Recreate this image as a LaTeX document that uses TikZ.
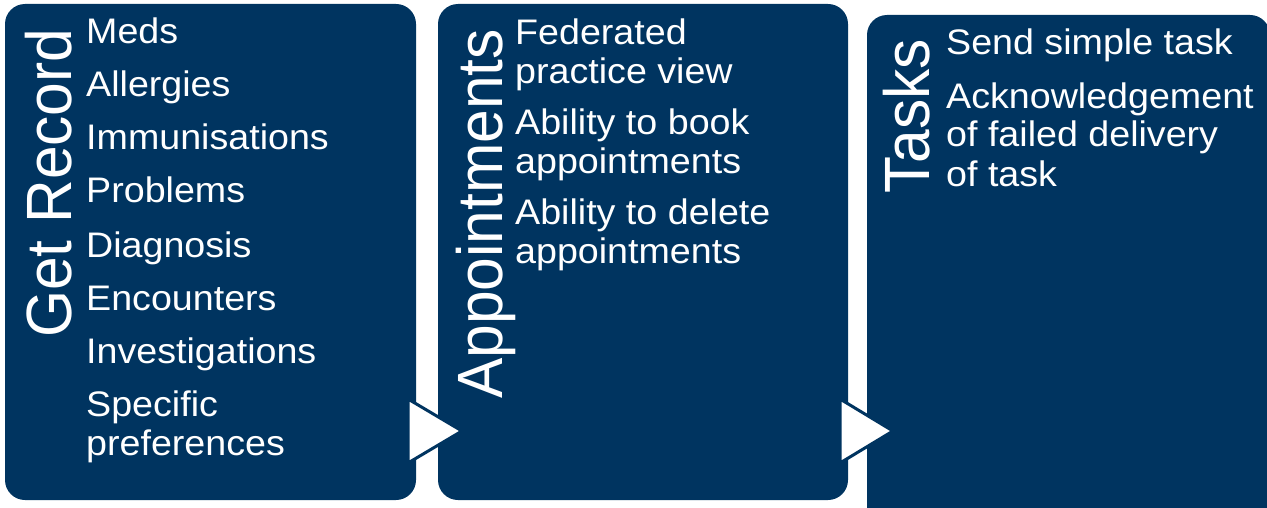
\documentclass[tikz,border=0pt]{standalone}
\usepackage{fontspec}
\usepackage{xcolor}
\setmainfont{Liberation Sans}
\newfontfamily\itemfont[FakeStretch=1.06]{Liberation Sans}
\newfontfamily\titlefont[FakeStretch=0.945]{Liberation Sans}
\definecolor{navy}{HTML}{003460}

\begin{document}
\begin{tikzpicture}[x=1pt, y=-1pt,
    block/.style={rectangle, rounded corners=20pt, fill=navy, draw=none, inner sep=0pt},
    title/.style={rotate=90, anchor=base west, inner sep=0pt, text=white, font=\titlefont\fontsize{64}{64}\selectfont},
    item/.style={anchor=base west, inner sep=0pt, align=left, text=white, font=\itemfont\fontsize{35.5}{39}\selectfont},
    arrowhead/.style={fill=white, draw=navy, line width=3pt, line join=miter}]
    \useasboundingbox (0,0) rectangle (1267,508);
    \clip (0,0) rectangle (1267,508);

    % the three blocks
    \node[block, minimum width=411pt, minimum height=496pt] (recbox) at (210.5,252) {};
    \node[block, minimum width=410pt, minimum height=496pt] (appbox) at (643,252) {};
    \node[block, minimum width=403pt, minimum height=515pt] (taskbox) at (1068.5,272.5) {};

    % titles
    \node[title] (rec) at (71,338) {Get Record};
    \node[title] (app) at (502,399) {Appointments};
    \node[title] (task) at (929,194) {Tasks};

    % get record (base of a wrapped item = its last line)
    \node[item] (meds) at (86,44) {Meds};
    \node[item] (allerg) at (86,97) {Allergies};
    \node[item] (immun) at (86,150) {Immunisations};
    \node[item] (probs) at (86,203) {Problems};
    \node[item] (diag) at (86,257) {Diagnosis};
    \node[item] (enc) at (86,310) {Encounters};
    \node[item] (invest) at (86,363) {Investigations};
    \node[item] (prefs) at (86,455) {Specific\\preferences};

    % appointments
    \node[item] (fed) at (515,84) {Federated\\practice view};
    \node[item] (book) at (515,174) {Ability to book\\appointments};
    \node[item] (del) at (515,263) {Ability to delete\\appointments};

    % tasks
    \node[item] (send) at (946,55) {Send simple task};
    \node[item] (ack) at (946,186) {Acknowledgement\\of failed delivery\\of task};

    % arrows between blocks
    \filldraw[arrowhead] (408,399) -- (408,463) -- (462,431) -- cycle;
    \filldraw[arrowhead] (840,399) -- (840,463) -- (893,431) -- cycle;
\end{tikzpicture}
\end{document}
